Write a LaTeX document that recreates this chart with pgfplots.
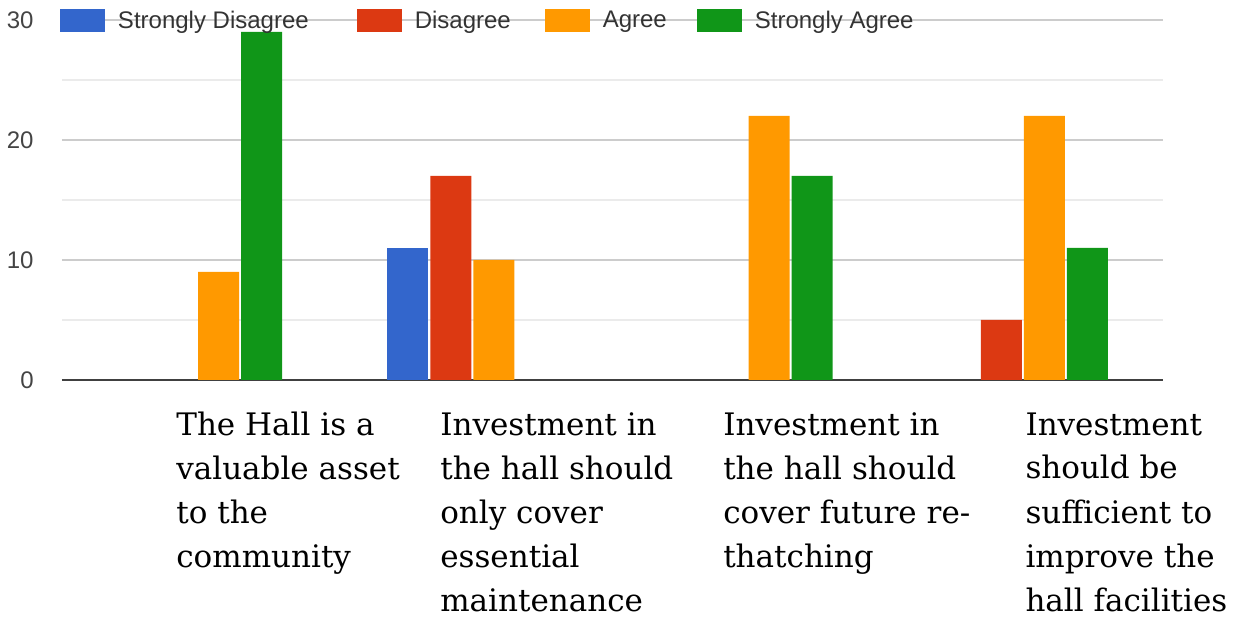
\documentclass[border=0pt]{standalone}
\usepackage{pgfplots}
\pgfplotsset{compat=1.18}
\usepackage{fontspec}
\setmainfont{Liberation Sans}
\newfontfamily\catfont{DejaVu Serif}
\definecolor{gSD}{HTML}{3366CC}
\definecolor{gD}{HTML}{DC3912}
\definecolor{gA}{HTML}{FF9900}
\definecolor{gSA}{HTML}{109618}
\definecolor{ticktxt}{HTML}{444444}
\definecolor{legtxt}{HTML}{333333}
\pgfplotsset{leg/.style={legend image code/.code={\fill[##1] (0pt,-5.75pt) rectangle (22.5pt,5.75pt);}}}
\begin{document}
\begin{tikzpicture}
\begin{axis}[
  name=ax, at={(0,0)}, anchor=south west,
  scale only axis, width=550.5pt, height=180pt,
  xmin=-0.491, xmax=3.509, ymin=0, ymax=30,
  ybar=1pt, bar width=20.5pt,
  axis line style={draw=none},
  major tick length=0pt, minor tick length=0pt,
  ytick={0,10,20,30}, minor y tick num=1,
  ymajorgrids, yminorgrids,
  major grid style={draw=black!20, line width=0.75pt},
  minor grid style={draw=black!8, line width=0.75pt},
  extra y ticks={0}, extra y tick labels={},
  extra y tick style={major grid style={draw=black!75, line width=1pt}},
  /pgf/number format/assume math mode=true,
  yticklabel style={anchor=east, inner sep=0pt, xshift=-14pt, font=\fontsize{12}{14}\selectfont, text=ticktxt},
  xtick={-0.077,0.882,1.910,3.008},
  xticklabels={{The Hall is a\\valuable asset\\to the\\community},
               {Investment in\\the hall should\\only cover\\essential\\maintenance},
               {Investment in\\the hall should\\cover future re-\\thatching},
               {Investment\\should be\\sufficient to\\improve the\\hall facilities}},
  xticklabel style={anchor=north west, align=left, inner sep=0pt, yshift=-16pt,
    font=\catfont\fontsize{15.5}{22}\selectfont, text=black},
  legend columns=4,
  legend style={at={(0,1)}, anchor=west, xshift=-1pt, yshift=-0.5pt, draw=none, fill=none,
    inner sep=0pt, outer sep=0pt,
    nodes={inner sep=0pt, font=\fontsize{12}{14}\selectfont, text=legtxt},
    /tikz/every odd column/.append style={column sep=6.5pt},
    /tikz/column 2/.append style={column sep=24pt},
    /tikz/column 4/.append style={column sep=17pt},
    /tikz/column 6/.append style={column sep=15pt}},
]
\addplot[fill=gSD, draw=none, leg] coordinates {(1,11)};
\addplot[fill=gD, draw=none, leg] coordinates {(1,17) (3,5)};
\addplot[fill=gA, draw=none, leg] coordinates {(0,9) (1,10) (2,22) (3,22)};
\addplot[fill=gSA, draw=none, leg] coordinates {(0,29) (2,17) (3,11)};
\legend{Strongly Disagree, Disagree, Agree, Strongly Agree}
\end{axis}
\pgfresetboundingbox
\useasboundingbox (-31pt,-119.5pt) rectangle (586.5pt,190pt);
\end{tikzpicture}
\end{document}
